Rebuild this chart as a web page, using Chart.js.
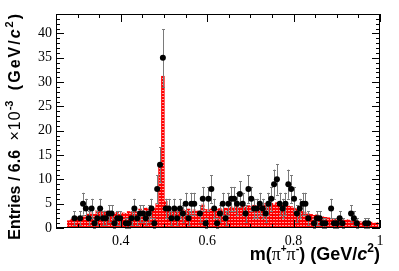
<!DOCTYPE html>
<html lang="en">
<head>
<meta charset="UTF-8">
<title>m(pi+pi-) spectrum</title>
<style>
    body { margin: 0; background: #fff; }
    canvas { display: block; }
</style>
</head>
<body>
<canvas id="chart" width="399" height="271"></canvas>
<script src="https://cdn.jsdelivr.net/npm/chart.js@4"></script>
<script>
// binning of the histogram (GeV/c^2)
const binLow = 0.2763;
const binWidth = 0.0066;

// data entries per bin
const counts = [
    0, 0, 2, 0, 2, 5, 4, 2, 4, 1,
    2, 4, 2, 2, 3, 3, 1, 2, 2, 0,
    1, 1, 2, 4, 2, 3, 3, 2, 3, 4,
    1, 8, 13, 35, 4, 4, 2, 4, 2, 4,
    3, 5, 2, 5, 5, 0, 3, 6, 1, 6,
    8, 4, 1, 3, 5, 2, 5, 6, 6, 5,
    7, 5, 3, 8, 6, 4, 4, 5, 4, 3,
    5, 6, 9, 10, 5, 4, 5, 9, 8, 6,
    3, 4, 5, 5, 2, 0, 1, 2, 2, 1,
    1, 0, 4, 1, 1, 2, 1, 0, 0, 3,
    2, 1, 0, 0, 1, 1, 0, 0, 0
];

// simulated spectrum (red histogram)
const mc = [
    1.5, 1.8, 2.0, 2.2, 2.4, 2.3, 2.6, 2.9, 3.1, 2.8,
    3.6, 3.4, 3.2, 3.5, 3.3, 2.9, 3.0, 3.2, 2.8, 3.1,
    3.0, 3.4, 3.2, 3.5, 3.3, 3.9, 3.6, 4.1, 3.8, 4.3,
    4.0, 5.0, 12.5, 31.2, 5.5, 3.8, 3.6, 3.9, 3.7, 3.5,
    3.8, 3.6, 3.9, 3.4, 3.7, 3.5, 3.6, 4.9, 3.8, 3.7,
    3.9, 3.6, 3.8, 4.0, 3.7, 4.1, 4.0, 4.3, 4.1, 4.4,
    4.2, 4.5, 4.3, 4.6, 4.4, 4.7, 4.5, 4.9, 4.6, 5.0,
    4.8, 5.1, 4.9, 5.2, 5.0, 4.7, 4.9, 4.5, 4.4, 4.1,
    3.9, 3.6, 3.4, 3.1, 3.0, 2.8, 2.6, 2.7, 2.4, 2.3,
    2.2, 2.1, 2.0, 1.9, 1.8, 1.9, 1.7, 1.6, 1.7, 1.5,
    1.4, 1.5, 1.3, 1.2, 1.3, 1.1, 1.2, 1.0, 1.1
];

const xTicks = [0.4, 0.6, 0.8, 1.0];
const yTicks = [0, 5, 10, 15, 20, 25, 30, 35, 40];
const xMin = 0.25, xMax = 1.0;
const yMin = 0, yMax = 44;

const centers = counts.map((_, i) => +(binLow + (i + 0.5) * binWidth).toFixed(5));

function makeHatch() {
    const c = document.createElement('canvas');
    c.width = 3; c.height = 3;
    const g = c.getContext('2d');
    g.fillStyle = '#ff0000';
    g.fillRect(0, 0, 3, 3);
    g.fillStyle = '#ff9c9c';
    g.fillRect(0, 0, 2, 1);
    return g.createPattern(c, 'repeat');
}

// ROOT-like frame with inward ticks
const frame = {
    id: 'frame',
    afterDatasetsDraw(chart) {
        const { ctx, chartArea: a, scales: { x, y } } = chart;
        ctx.save();
        ctx.strokeStyle = '#000';
        ctx.lineWidth = 1;
        ctx.beginPath();
        for (let v = yMin; v <= yMax; v += 1) {
            const py = Math.round(y.getPixelForValue(v)) + 0.5;
            const len = v % 5 === 0 ? 8 : 4;
            ctx.moveTo(a.left, py); ctx.lineTo(a.left + len, py);
            ctx.moveTo(a.right, py); ctx.lineTo(a.right - len, py);
        }
        for (let k = 0; k <= 15; k++) {
            const v = xMin + k * 0.05;
            const px = Math.round(x.getPixelForValue(v)) + 0.5;
            const major = xTicks.some(t => Math.abs(t - v) < 1e-6);
            const len = major ? 8 : 4;
            ctx.moveTo(px, a.bottom); ctx.lineTo(px, a.bottom - len);
            ctx.moveTo(px, a.top); ctx.lineTo(px, a.top + len);
        }
        ctx.stroke();
        ctx.strokeRect(a.left + 0.5, a.top + 0.5, a.right - a.left - 1, a.bottom - a.top - 1);
        ctx.restore();
    }
};

// vertical error bars under the data markers
const errorBars = {
    id: 'errorBars',
    beforeDatasetDraw(chart, args) {
        if (args.index !== 1) return;
        const { ctx, scales: { x, y } } = chart;
        ctx.save();
        ctx.strokeStyle = '#7a7a7a';
        ctx.lineWidth = 1;
        ctx.beginPath();
        counts.forEach((n, i) => {
            if (!n) return;
            const e = Math.sqrt(n);
            const px = Math.round(x.getPixelForValue(centers[i])) + 0.5;
            const top = y.getPixelForValue(n + e);
            const bot = y.getPixelForValue(Math.max(n - e, 0));
            ctx.moveTo(px, top); ctx.lineTo(px, bot);
            ctx.moveTo(px - 1.5, Math.round(top) + 0.5); ctx.lineTo(px + 1.5, Math.round(top) + 0.5);
            ctx.moveTo(px - 1.5, Math.round(bot) + 0.5); ctx.lineTo(px + 1.5, Math.round(bot) + 0.5);
        });
        ctx.stroke();
        ctx.restore();
    }
};

// draws a run of text pieces (fonts, raised superscripts) ending at x
function drawRich(ctx, parts, x, y) {
    const widthOf = p => {
        ctx.font = p.f;
        ctx.letterSpacing = (p.ls || 0) + 'px';
        return ctx.measureText(p.t).width + (p.gap || 0);
    };
    let w = 0;
    parts.forEach(p => { w += widthOf(p); });
    let cx = x - w;
    parts.forEach(p => {
        const pw = widthOf(p);
        ctx.fillText(p.t, cx, y + (p.dy || 0));
        cx += pw;
    });
    ctx.letterSpacing = '0px';
}

const titles = {
    id: 'titles',
    afterDraw(chart) {
        const { ctx, chartArea: a } = chart;
        const B = 'bold 16px "Liberation Sans"';
        const BI = 'italic bold 16px "Liberation Sans"';
        const S = 'bold 11px "Liberation Sans"';
        const XB = 'bold 18px "Liberation Sans"';
        ctx.save();
        ctx.fillStyle = '#000';
        ctx.textBaseline = 'alphabetic';
        drawRich(ctx, [
            { t: 'm(', f: XB },
            { t: 'π', f: '18px "Liberation Serif"' },
            { t: '+', f: 'bold 10px "Liberation Sans"', dy: -8 },
            { t: 'π', f: '18px "Liberation Serif"' },
            { t: '-', f: 'bold 11px "Liberation Sans"', dy: -8 },
            { t: ') (GeV/', f: XB },
            { t: 'c', f: 'italic bold 18px "Liberation Sans"' },
            { t: '2', f: 'bold 12px "Liberation Sans"', dy: -8 },
            { t: ')', f: XB }
        ], a.right, 260);

        ctx.translate(20, a.top);
        ctx.rotate(-Math.PI / 2);
        drawRich(ctx, [
            { t: 'Entries / 6.6 ', f: B, gap: 5 },
            { t: '×10', f: '16px "Liberation Sans"', ls: 1 },
            { t: '-3', f: S, dy: -7, gap: 4 },
            { t: ' (GeV/', f: B, ls: 2 },
            { t: 'c', f: BI, gap: 2 },
            { t: '2', f: S, dy: -7, gap: 2 },
            { t: ')', f: B }
        ], 0, 0);
        ctx.restore();
    }
};

const tickFont = { family: '"Liberation Serif"', size: 14 };

new Chart(document.getElementById('chart'), {
    type: 'bar',
    data: {
        datasets: [{
            type: 'bar',
            data: centers.map((c, i) => ({ x: c, y: mc[i] })),
            backgroundColor: makeHatch(),
            borderWidth: 0,
            barPercentage: 1.0,
            categoryPercentage: 1.0,
            order: 2
        }, {
            type: 'scatter',
            data: centers.map((c, i) => ({ x: c, y: counts[i] > 0 ? counts[i] : null })),
            backgroundColor: '#000',
            borderWidth: 0,
            pointRadius: 3,
            order: 1
        }]
    },
    options: {
        responsive: false,
        devicePixelRatio: 1,
        animation: false,
        layout: { padding: { left: 0, right: 19, top: 14, bottom: 0 } },
        plugins: { legend: { display: false }, tooltip: { enabled: false } },
        scales: {
            x: {
                type: 'linear',
                min: xMin,
                max: xMax,
                offset: false,
                grid: { display: false, drawTicks: false },
                border: { display: false },
                afterBuildTicks: s => { s.ticks = xTicks.map(v => ({ value: v })); },
                afterFit: s => { s.height = 43; },
                ticks: {
                    font: tickFont,
                    color: '#000',
                    padding: 5,
                    maxRotation: 0,
                    callback: v => (v === 1 ? '1' : v.toFixed(1))
                }
            },
            y: {
                min: yMin,
                max: yMax,
                grid: { display: false, drawTicks: false },
                border: { display: false },
                afterBuildTicks: s => { s.ticks = yTicks.map(v => ({ value: v })); },
                afterFit: s => { s.width = 56; },
                ticks: { font: tickFont, color: '#000', padding: 4 }
            }
        }
    },
    plugins: [errorBars, frame, titles]
});
</script>
</body>
</html>
